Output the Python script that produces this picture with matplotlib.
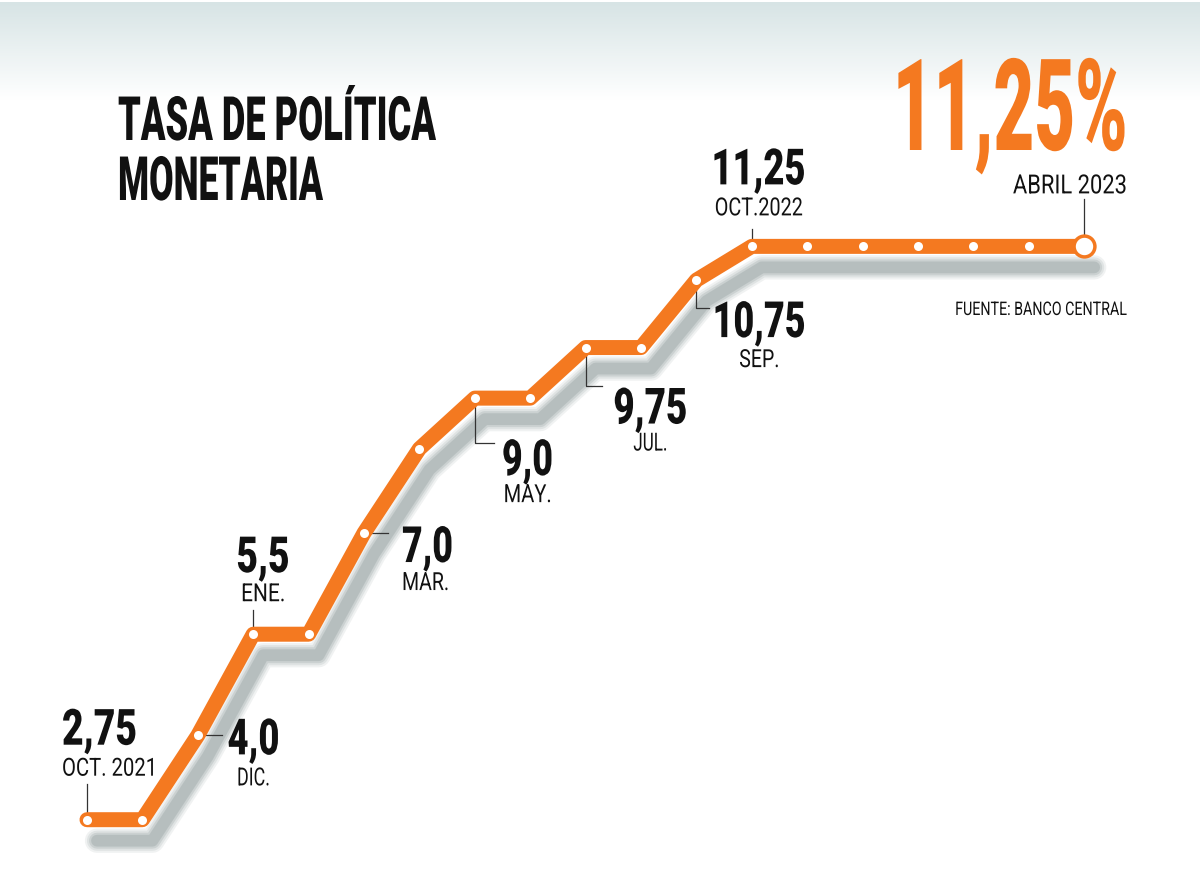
import matplotlib
matplotlib.use("Agg")
import matplotlib.pyplot as plt
import numpy as np
from matplotlib import transforms as mtransforms
from matplotlib.patheffects import AbstractPathEffect

# ---------------- data ----------------
months = ["OCT. 2021", "NOV.", "DIC.", "ENE.", "FEB.", "MAR.", "ABR.", "MAY.", "JUN.",
          "JUL.", "AGO.", "SEP.", "OCT.2022", "NOV.", "DIC.", "ENE.", "FEB.", "MAR.", "ABRIL 2023"]
rates = [2.75, 2.75, 4.0, 5.5, 5.5, 7.0, 8.25, 9.0, 9.0, 9.75, 9.75, 10.75,
         11.25, 11.25, 11.25, 11.25, 11.25, 11.25, 11.25]
value_labels = ["2,75", "4,0", "5,5", "7,0", "9,0", "9,75", "10,75", "11,25"]
label_idx = [0, 2, 3, 5, 7, 9, 11, 12]
title_lines = ["TASA DE POLÍTICA", "MONETARIA"]
headline = "11,25%"
headline_date = "ABRIL 2023"
source = "FUENTE: BANCO CENTRAL"

ORANGE = "#f47920"
SHADOW = "#9ea9a9"
INK = "#111111"


class Condense(AbstractPathEffect):
    """Scale a text path (x about an anchor, y about the baseline)."""
    def __init__(self, sx=1.0, anchor="left", sy=1.0):
        super().__init__()
        self.sx = sx
        self.sy = sy
        self.anchor = anchor

    def draw_path(self, renderer, gc, tpath, affine, rgbFace=None):
        v = tpath.vertices
        if len(v) == 0:
            return
        x0, x1 = v[:, 0].min(), v[:, 0].max()
        a = {"left": x0, "center": 0.5 * (x0 + x1), "right": x1}[self.anchor]
        local = mtransforms.Affine2D().translate(-a, 0).scale(self.sx, self.sy).translate(a, 0)
        renderer.draw_path(gc, tpath, local + affine, rgbFace)


W, H = 1200, 873
fig = plt.figure(figsize=(W / 100, H / 100), dpi=100)
ax = fig.add_axes([0, 0, 1, 1])
ax.axis("off")

# background gradient band at top
grad = np.linspace(0, 1, 200)[:, None]
top = np.array([0.843, 0.894, 0.898])
bot = np.array([1.0, 1.0, 1.0])
img = top[None, None, :] * (1 - grad[:, :, None]) + bot[None, None, :] * grad[:, :, None]
ax.imshow(img, extent=(0, 1, 1 - 100 / H, 1 - 2 / H), transform=ax.transAxes,
          aspect="auto", zorder=0, interpolation="bilinear")

# scales: x = month index, y = rate
x = np.arange(len(rates))
px_per_month = 55.4
px_per_unit = 67.45
x0_px, y0_px = 87.0, 819.7
ax.set_xlim(-x0_px / px_per_month, (W - x0_px) / px_per_month)
ax.set_ylim(rates[0] - (H - y0_px) / px_per_unit, rates[0] + y0_px / px_per_unit)
ax.set_autoscale_on(False)

# shadow (soft)
shadow_tr = mtransforms.offset_copy(ax.transData, fig=fig, x=10, y=-21, units="dots")
for lw, al in [(17.5, 0.15), (14.5, 0.2), (11.5, 0.3), (8.5, 0.45)]:
    ax.plot(x, rates, color=SHADOW, lw=lw, alpha=al, solid_capstyle="round",
            solid_joinstyle="round", transform=shadow_tr, zorder=1)

# leaders (pixel offsets from points, image-down)
leaders = {
    0: [(0, 0), (0, -36)],
    2: [(0, 0), (24, 0)],
    3: [(0, 0), (0, -24)],
    5: [(0, 0), (24, 0)],
    7: [(0, 0), (0, 45), (19, 45)],
    9: [(0, 0), (0, 38), (16, 38)],
    11: [(0, 0), (0, 28), (13, 28)],
    12: [(0, 0), (0, -17)],
    18: [(0, 0), (0, -47)],
}
for i, pts in leaders.items():
    tr = mtransforms.Affine2D().scale(1, -1) + mtransforms.ScaledTranslation(x[i], rates[i], ax.transData)
    p = np.array(pts, float)
    ax.plot(p[:, 0], p[:, 1], color="#333333", lw=0.9, transform=tr, zorder=2)

# main line
ax.plot(x, rates, color=ORANGE, lw=10.8, solid_capstyle="round", solid_joinstyle="round", zorder=3)
ax.plot(x[:-1], rates[:-1], "o", ms=6.5, mfc="white", mec="white", mew=0, zorder=4)
ax.plot(x[-1:], rates[-1:], "o", ms=15, mfc="white", mec=ORANGE, mew=2.5, zorder=4)

# label layout: (dx, dy_value, dy_month, ha, value width px, month width px)
layout = {
    0: (-25, -75, -44, "left", 75, 95),
    2: (56, 19, 50, "center", 52, 33),
    3: (10, -62, -33, "center", 53, 44),
    5: (38, 29, 57, "left", 51, 47),
    7: (53, 77, 104, "center", 51, 48),
    9: (65, 76, 103, "center", 74, 34),
    11: (63, 57, 87, "center", 93, 40),
    12: (7, -62, -31, "center", 94, 88),
}

texts = []  # (artist, width, anchor, sy)


def add(xy, off, s, size, weight, color, ha, width, tr=None, sy=1.0):
    kw = {}
    if tr is not None:
        kw["xycoords"] = tr
    t = ax.annotate(s, xy=xy, xytext=(off[0], -off[1]), textcoords="offset pixels",
                    ha=ha, va="baseline", fontsize=size, fontweight=weight,
                    color=color, family="Roboto", zorder=6, annotation_clip=False, **kw)
    texts.append((t, width, ha, sy))
    return t


for k, i in enumerate(label_idx):
    dx, dyv, dym, ha, wv, wm = layout[i]
    add((x[i], rates[i]), (dx, dyv), value_labels[k], 36, "black", INK, ha, wv)
    add((x[i], rates[i]), (dx, dym), months[i], 18, "normal", INK, ha, wm)

# final point label
add((x[-1], rates[-1]), (43, -53), headline_date, 19, "normal", INK, "right", 114)

# headline and title (figure pixel positions)
pix = mtransforms.Affine2D().scale(1, -1).translate(0, H)  # image pixel coords -> display
add((1128, 150), (0, 0), headline, 56, "black", ORANGE, "right", 235, tr=pix, sy=92 / 56)
add((118, 140), (0, 0), title_lines[0], 44, "black", INK, "left", 318, tr=pix)
add((118, 200), (0, 0), title_lines[1], 44, "black", INK, "left", 205, tr=pix)
add((1126, 315), (0, 0), source, 13.5, "normal", INK, "right", 171, tr=pix)

fig.canvas.draw()
r = fig.canvas.get_renderer()
for t, w, ha, sy in texts:
    bb = t.get_window_extent(r)
    sx = w / bb.width if bb.width > 0 else 1.0
    t.set_path_effects([Condense(sx, ha, sy)])

fig.savefig("out.png", dpi=100)
